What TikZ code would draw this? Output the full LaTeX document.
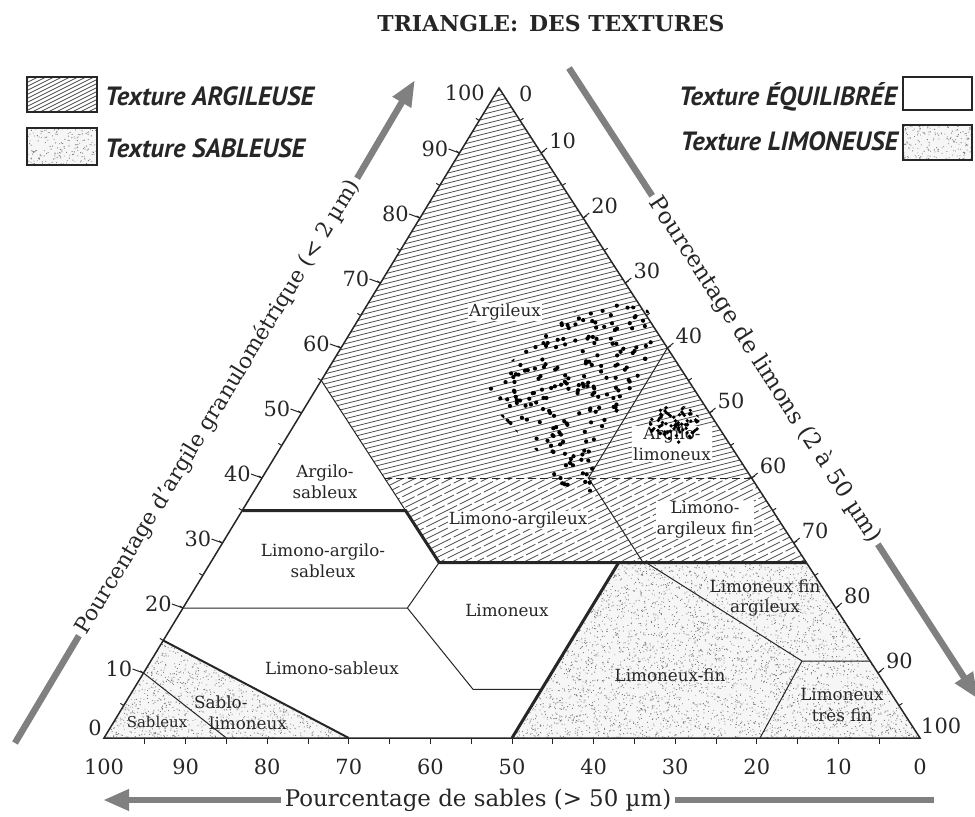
\documentclass[tikz,border=0pt]{standalone}
\usepackage{fontspec}
\setmainfont{DejaVu Serif}
\setsansfont{PT Sans}
\usetikzlibrary{arrows.meta}
\definecolor{axgray}{gray}{0.5}
\definecolor{hatchgray}{gray}{0.3}
\definecolor{stipgray}{gray}{0.5}
\definecolor{ink}{gray}{0.15}
\begin{document}
\begin{tikzpicture}[x=1bp,y=-1bp,
  outline/.style={line width=1.5bp, draw=ink},
  fine/.style={line width=1bp, draw=ink},
  heavy/.style={line width=3bp, draw=ink},
  medium/.style={line width=2bp, draw=ink},
  hatchA/.style={line width=0.75bp, draw=hatchgray},
  hatchB/.style={line width=0.75bp, draw=hatchgray, dash pattern=on 24bp off 3bp},
  lab/.style={font=\fontsize{16.8}{21}\selectfont, align=center, inner sep=1bp, text=ink},
  labw/.style={lab, fill=white},
  num/.style={font=\fontsize{21}{23}\selectfont, inner sep=0pt, text=ink},
  axtext/.style={font=\fontsize{23}{25}\selectfont, inner sep=4bp, text=ink},
  axbar/.style={line width=6.5bp, draw=axgray},
  axarrow/.style={axbar, -{Triangle[length=26bp,width=20bp]}},
  legtext/.style={font=\sffamily\bfseries\itshape\fontsize{26.5}{28}\selectfont, inner sep=0pt, text=ink},
  legbox/.style={line width=1.5bp, draw=ink},
  datadot/.style={fill=black},
]
\useasboundingbox[fill=white] (0,0) rectangle (975,817);

% ---------- key points (pixel coordinates) ----------
\coordinate (A) at (499,88);
\coordinate (BL) at (104,738);
\coordinate (BR) at (920,738);
\coordinate (P1) at (321.3,380.5);
\coordinate (Q1) at (384.4,478);
\coordinate (Q2) at (405.5,510.5);
\coordinate (L35) at (242.3,510.5);
\coordinate (Q3) at (439.1,562.5);
\coordinate (R27) at (806.3,562.5);
\coordinate (R60) at (667.4,348);
\coordinate (M40) at (588.4,478);
\coordinate (M27) at (643.1,562.5);
\coordinate (R40) at (751.6,478);
\coordinate (S5t) at (618.7,562.5);
\coordinate (S5b) at (512,738);
\coordinate (L20) at (183,608);
\coordinate (H2) at (407.4,608);
\coordinate (H3) at (473,689.3);
\coordinate (H4) at (541.6,689.3);
\coordinate (L15) at (163.3,640.5);
\coordinate (B70) at (348.8,738);
\coordinate (L10) at (143.5,673);
\coordinate (B85) at (226.4,738);
\coordinate (K1) at (646,562.5);
\coordinate (K2) at (802,661);
\coordinate (K3) at (870.3,661);
\coordinate (K4) at (760,738);

% ---------- stippled (sandy / silty) areas ----------
\begin{scope}
  \clip (BL) -- (L15) -- (B70) -- cycle (S5t) -- (R27) -- (BR) -- (S5b) -- cycle;
  \fill[gray!7] (0,0) rectangle (975,817);
  \pgfmathsetseed{42}
  \foreach \j in {1,...,9} {
    \fill[stipgray] \foreach \k in {1,...,200} { ({104+245*rnd},{640+98*rnd}) rectangle ++(0.9,0.9) };
  }
  \foreach \j in {1,...,26} {
    \fill[stipgray] \foreach \k in {1,...,200} { ({512+408*rnd},{562+176*rnd}) rectangle ++(0.9,0.9) };
  }
\end{scope}

% ---------- hatched (clay) areas ----------
\begin{scope}
  \clip (A) -- (P1) -- (Q1) -- (M40) -- (R60) -- cycle (R60) -- (R40) -- (M40) -- cycle;
  \foreach \i in {80,85,...,620} \draw[hatchA] (300,\i) -- (800,\i-125);
\end{scope}
\begin{scope}
  \clip (Q1) -- (Q2) -- (Q3) -- (R27) -- (R40) -- cycle;
  \foreach \i in {466,472,...,800} {
    \pgfmathsetmacro{\sx}{380-mod(\i*11,27)}
    \draw[hatchB] (\sx,{\i-0.5*(\sx-380)}) -- (820,\i-220);
  }
\end{scope}

% ---------- triangle and class boundaries ----------
\draw[outline] (A) -- (BL) -- (BR) -- cycle;
\draw[fine] (P1) -- (Q2);
\draw[heavy] (L35) -- (Q2) -- (Q3) -- (R27);
\draw[fine, dash pattern=on 8bp off 4bp] (Q1) -- (R40);
\draw[fine] (R60) -- (M40) -- (M27);
\draw[heavy] (S5t) -- (S5b);
\draw[fine] (L20) -- (H2) -- (Q3);
\draw[fine] (H2) -- (H3) -- (H4);
\draw[medium] (L15) -- (B70);
\draw[fine] (L10) -- (B85);
\draw[fine] (K1) -- (K2) -- (K3);
\draw[fine] (K2) -- (K4);

% ---------- class labels ----------
\node[labw] (argileux) at (505,312) {Argileux};
\node[lab] (argsab) at (325,482) {Argilo-\\sableux};
\node[lab] (limargsab) at (323,561) {Limono-argilo-\\sableux};
\node[labw] (limarg) at (518,520) {Limono-argileux};
\node[lab] (limoneux) at (507,610) {Limoneux};
\node[lab] (limsab) at (332,668) {Limono-sableux};
\node[lab, align=left, anchor=west] (sablim) at (193,713) {Sablo-\\\hspace*{15bp}limoneux};
\node[lab, font=\fontsize{15}{18}\selectfont] (sableux) at (157,722) {Sableux};
\node[lab] (limfin) at (670,675) {Limoneux-fin};
\node[lab] (limfinarg) at (765,598) {Limoneux fin\\argileux};
\node[labw] (limargfin) at (705,520) {Limono-\\argileux fin};
\node[lab] (limtf) at (842,705) {Limoneux\\très fin};
\node[labw] (arglim) at (672,444) {Argilo-\\limoneux};

% ---------- measured samples ----------
\begin{scope}
  \clip (488,388) -- (510,362) -- (532,343) -- (570,315) -- (600,296) -- (648,310) -- (662,340) -- (645,375) -- (622,405) -- (598,450) -- (592,492) -- (560,497) -- (548,462) -- (522,437) -- (500,415) -- cycle;
  \pgfmathsetseed{7}
  \foreach \j in {1,...,4} {
    \fill[datadot] \foreach \k in {1,...,95} { ({486+180*rnd},{294+205*rnd}) circle[radius=2.1bp] };
  }
\end{scope}
\begin{scope}
  \clip (675,425) ellipse [x radius=26, y radius=20];
  \pgfmathsetseed{11}
  \fill[datadot] \foreach \k in {1,...,90} { ({649+52*rnd},{405+40*rnd}) circle[radius=1.9bp] };
\end{scope}

% ---------- scale ticks ----------
\foreach \k in {1,...,19} {
  \draw[fine] ({104+19.75*\k},{738-32.5*\k}) -- ++(-3.4,-2.1);
  \draw[fine] ({499+21.05*\k},{88+32.5*\k}) -- ++(3.4,-2.2);
  \draw[fine] ({920-40.8*\k},738) -- ++(0,6);
}

% clay scale (left)
\foreach \c in {1,...,9} {
  \pgfmathtruncatemacro{\v}{10*\c}
  \node[num, anchor=east] (cl\c) at ({104+39.5*\c-11},{738-65*\c-4}) {\v};
  \draw[fine] (cl\c.east) -- ({104+39.5*\c},{738-65*\c});
}
\node[num, anchor=east] (cl10) at (485,93) {100};
\node[num, anchor=east] (cl0) at (102,728) {0};

% silt scale (right)
\foreach \k in {1,...,9} {
  \pgfmathtruncatemacro{\v}{10*\k}
  \node[num, anchor=west] (sl\k) at ({499+42.1*\k+8},{88+65*\k-12}) {\v};
  \draw[fine] ({499+42.1*\k},{88+65*\k}) -- ++(6,-5);
}
\node[num, anchor=west] (sl0) at (519,94) {0};
\node[num, anchor=west] (sl10) at (921,726) {100};

% sand scale (bottom)
\foreach \k in {0,...,10} {
  \pgfmathtruncatemacro{\v}{10*\k}
  \node[num] (bs\k) at ({920-81.6*\k},767) {\v};
}

% ---------- axis titles with arrows ----------
\node[axtext, font=\fontsize{21.8}{24}\selectfont, rotate=58.7] (lt) at (218,407) {Pourcentage d'argile granulométrique (< 2 µm)};
\coordinate (lbot) at (15,743);
\coordinate (ltip) at (415,80);
\draw[axbar] (lt.west) -- (lbot);
\draw[axarrow] (lt.east) -- (ltip);

\node[axtext, rotate=-57.07] (rt) at (765,370) {Pourcentage de limons (2 à 50 µm)};
\coordinate (rtop) at (569,68);
\coordinate (rtip) at (978,699);
\draw[axbar] (rt.west) -- (rtop);
\draw[axarrow] (rt.east) -- (rtip);

\node[axtext] (bt) at (478,800) {Pourcentage de sables (> 50 µm)};
\coordinate (btip) at (103,800);
\coordinate (bend) at (934,800);
\draw[axarrow] (bt.west) -- (btip);
\draw[axbar] (bt.east) -- (bend);

% ---------- title ----------
\node[font=\bfseries\fontsize{22}{24}\selectfont, text=ink, anchor=base] (title) at (551,32) {TRIANGLE:\hspace{0.5em}DES TEXTURES};

% ---------- legend ----------
\begin{scope}
  \clip (27,77) rectangle (97,112);
  \foreach \i in {70,74,...,160} \draw[hatchA] (20,\i) -- (100,\i-40);
\end{scope}
\draw[legbox] (27,77) rectangle (97,112);
\begin{scope}
  \clip (27,128) rectangle (97,165) (903,125) rectangle (972,160);
  \fill[gray!7] (0,0) rectangle (975,817);
  \pgfmathsetseed{5}
  \fill[stipgray] \foreach \k in {1,...,190} { ({27+70*rnd},{128+37*rnd}) rectangle ++(0.9,0.9) };
  \fill[stipgray] \foreach \k in {1,...,190} { ({903+69*rnd},{125+35*rnd}) rectangle ++(0.9,0.9) };
\end{scope}
\draw[legbox] (27,128) rectangle (97,165);
\draw[legbox] (903,77) rectangle (972,110);
\draw[legbox] (903,125) rectangle (972,160);

\node[legtext, anchor=base west] (lg1) at (105,105) {Texture ARGILEUSE};
\node[legtext, anchor=base west] (lg2) at (105,157) {Texture SABLEUSE};
\node[legtext, anchor=base east] (lg3) at (897,105) {Texture ÉQUILIBRÉE};
\node[legtext, anchor=base east] (lg4) at (898,150) {Texture LIMONEUSE};
\end{tikzpicture}
\end{document}
